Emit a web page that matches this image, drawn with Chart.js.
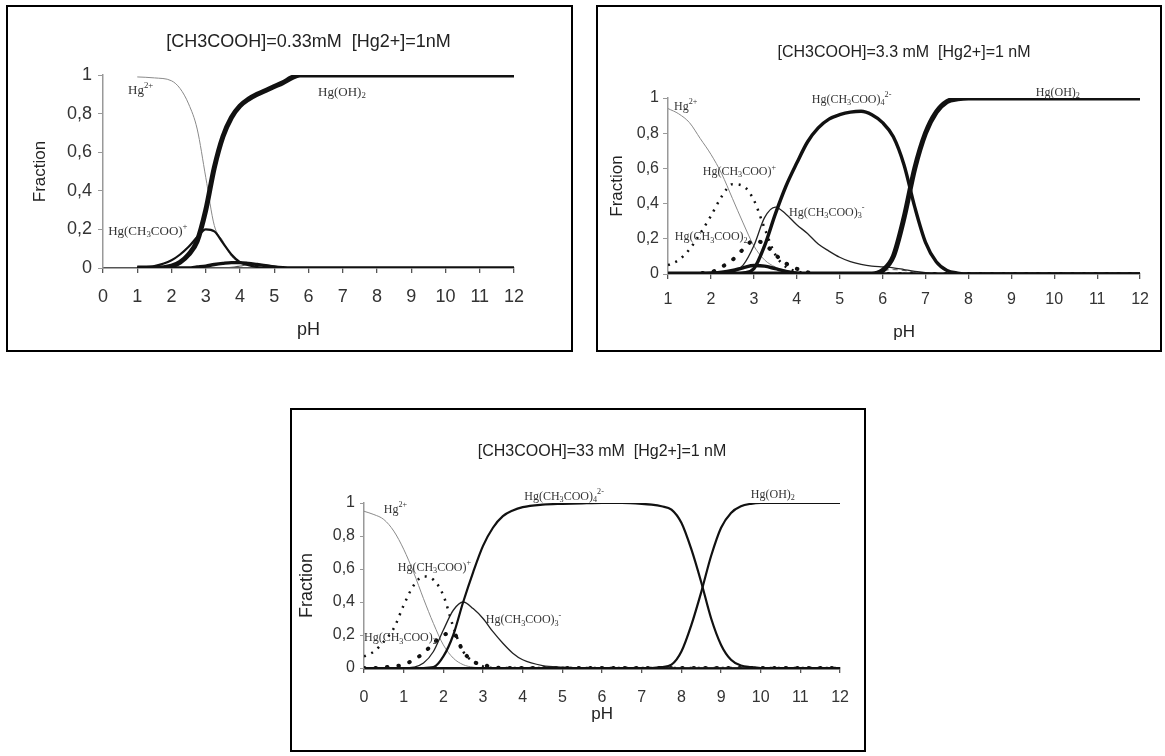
<!DOCTYPE html>
<html>
<head>
<meta charset="utf-8">
<script src="https://cdn.jsdelivr.net/npm/chart.js@4.4.1/dist/chart.umd.min.js"></script>
<style>
  body { margin: 0; background: #fff; }
  .panel { position: absolute; box-sizing: border-box; border: 2px solid #000; background: #fff; }
  .panel canvas { position: absolute; left: 0; top: 0; }
</style>
</head>
<body>
<div class="panel" style="left:6px;top:5px;width:567px;height:347px"><canvas id="c1" width="563" height="343"></canvas></div>
<div class="panel" style="left:596px;top:5px;width:566px;height:347px"><canvas id="c2" width="562" height="343"></canvas></div>
<div class="panel" style="left:290px;top:408px;width:576px;height:344px"><canvas id="c3" width="572" height="340"></canvas></div>
<script>
const fractionTicks = ['0', '0,2', '0,4', '0,6', '0,8', '1']
const titles = [
  '[CH3COOH]=0.33mM  [Hg2+]=1nM',
  '[CH3COOH]=3.3 mM  [Hg2+]=1 nM',
  '[CH3COOH]=33 mM  [Hg2+]=1 nM',
]
// species names, _{} subscript, ^{} superscript
const names = {
  hg: 'Hg^{2+}',
  oh2: 'Hg(OH)_{2}',
  ac1: 'Hg(CH_{3}COO)^{+}',
  ac2: 'Hg(CH_{3}COO)_{2}',
  ac3: 'Hg(CH_{3}COO)_{3}^{-}',
  ac4: 'Hg(CH_{3}COO)_{4}^{2-}',
}

// [CH3COOH] = 0.33 mM
const pH1 = [1, 1.5, 2, 2.25, 2.5, 2.75, 3, 3.25, 3.5, 3.75, 4, 4.25, 4.5, 4.75, 5, 5.25, 5.5, 5.75, 6, 7, 8, 9, 10, 11, 12]
const hg1 = [0.99, 0.985, 0.97, 0.93, 0.85, 0.72, 0.47, 0.22, 0.14, 0.06, 0.03, 0.015, 0.005, 0, 0, 0, 0, 0, 0, 0, 0, 0, 0, 0, 0]
const oh2_1 = [0, 0, 0.01, 0.03, 0.07, 0.14, 0.3, 0.52, 0.68, 0.78, 0.84, 0.875, 0.9, 0.92, 0.94, 0.96, 0.985, 1, 1, 1, 1, 1, 1, 1, 1]
const ac1_1 = [0, 0.01, 0.04, 0.07, 0.11, 0.16, 0.2, 0.19, 0.13, 0.07, 0.03, 0.015, 0.005, 0, 0, 0, 0, 0, 0, 0, 0, 0, 0, 0, 0]
const minorA1 = [0, 0, 0, 0, 0, 0.005, 0.01, 0.018, 0.024, 0.028, 0.028, 0.024, 0.018, 0.012, 0.006, 0.002, 0, 0, 0, 0, 0, 0, 0, 0, 0]
const minorB1 = [0, 0, 0, 0, 0, 0, 0, 0, 0, 0.003, 0.01, 0.018, 0.02, 0.017, 0.01, 0.004, 0, 0, 0, 0, 0, 0, 0, 0, 0]

// [CH3COOH] = 3.3 mM
const pH2 = [1, 1.25, 1.5, 1.75, 2, 2.25, 2.5, 2.75, 3, 3.25, 3.5, 3.75, 4, 4.25, 4.5, 4.75, 5, 5.25, 5.5, 5.75, 6, 6.25, 6.5, 6.75, 7, 7.25, 7.5, 7.75, 8, 9, 10, 11, 12]
const hg2 = [0.94, 0.91, 0.86, 0.77, 0.68, 0.57, 0.43, 0.29, 0.16, 0.08, 0.04, 0.02, 0.01, 0.005, 0, 0, 0, 0, 0, 0, 0, 0, 0, 0, 0, 0, 0, 0, 0, 0, 0, 0, 0]
const ac1_2 = [0.05, 0.08, 0.14, 0.23, 0.33, 0.44, 0.51, 0.5, 0.42, 0.26, 0.11, 0.04, 0.015, 0.005, 0, 0, 0, 0, 0, 0, 0, 0, 0, 0, 0, 0, 0, 0, 0, 0, 0, 0, 0]
const ac2_2 = [0, 0, 0, 0.005, 0.01, 0.04, 0.08, 0.14, 0.19, 0.17, 0.11, 0.06, 0.03, 0.01, 0, 0, 0, 0, 0, 0, 0, 0, 0, 0, 0, 0, 0, 0, 0, 0, 0, 0, 0]
const ac3_2 = [0, 0, 0, 0, 0, 0, 0.01, 0.05, 0.16, 0.32, 0.38, 0.34, 0.28, 0.23, 0.17, 0.13, 0.095, 0.07, 0.055, 0.045, 0.04, 0.035, 0.025, 0.015, 0.008, 0.003, 0, 0, 0, 0, 0, 0, 0]
const ac4_2 = [0, 0, 0, 0, 0, 0, 0, 0.005, 0.03, 0.16, 0.34, 0.5, 0.63, 0.75, 0.83, 0.88, 0.905, 0.92, 0.925, 0.905, 0.86, 0.78, 0.62, 0.38, 0.18, 0.07, 0.02, 0.005, 0, 0, 0, 0, 0]
const oh2_2 = [0, 0, 0, 0, 0, 0, 0, 0, 0, 0, 0, 0, 0, 0, 0, 0, 0, 0, 0, 0, 0.02, 0.1, 0.32, 0.6, 0.8, 0.92, 0.98, 0.995, 1, 1, 1, 1, 1]
const minorA2 = [0, 0, 0, 0.002, 0.005, 0.01, 0.02, 0.035, 0.048, 0.045, 0.03, 0.015, 0.005, 0, 0, 0, 0, 0, 0, 0, 0, 0, 0, 0, 0, 0, 0, 0, 0, 0, 0, 0, 0]
const minorB2 = [0, 0, 0, 0, 0, 0, 0, 0, 0, 0, 0, 0, 0, 0, 0, 0, 0, 0, 0, 0.01, 0.02, 0.025, 0.02, 0.01, 0.003, 0, 0, 0, 0, 0, 0, 0, 0]

// [CH3COOH] = 33 mM
const pH3 = [0, 0.25, 0.5, 0.75, 1, 1.25, 1.5, 1.75, 2, 2.25, 2.5, 2.75, 3, 3.25, 3.5, 3.75, 4, 4.5, 5, 5.5, 6, 6.5, 7, 7.25, 7.5, 7.75, 8, 8.25, 8.5, 8.75, 9, 9.25, 9.5, 9.75, 10, 11, 12]
const hg3 = [0.95, 0.93, 0.9, 0.83, 0.72, 0.58, 0.42, 0.27, 0.14, 0.06, 0.02, 0.005, 0, 0, 0, 0, 0, 0, 0, 0, 0, 0, 0, 0, 0, 0, 0, 0, 0, 0, 0, 0, 0, 0, 0, 0, 0]
const ac1_3 = [0.07, 0.1, 0.16, 0.24, 0.38, 0.5, 0.555, 0.535, 0.44, 0.25, 0.1, 0.04, 0.01, 0, 0, 0, 0, 0, 0, 0, 0, 0, 0, 0, 0, 0, 0, 0, 0, 0, 0, 0, 0, 0, 0, 0, 0]
const ac2_3 = [0, 0, 0.005, 0.01, 0.02, 0.05, 0.09, 0.15, 0.2, 0.21, 0.1, 0.04, 0.02, 0.005, 0, 0, 0, 0, 0, 0, 0, 0, 0, 0, 0, 0, 0, 0, 0, 0, 0, 0, 0, 0, 0, 0, 0]
const ac3_3 = [0, 0, 0, 0, 0, 0.005, 0.03, 0.1, 0.23, 0.35, 0.4, 0.36, 0.3, 0.22, 0.15, 0.09, 0.05, 0.015, 0.005, 0, 0, 0, 0, 0, 0, 0, 0, 0, 0, 0, 0, 0, 0, 0, 0, 0, 0]
const ac4_3 = [0, 0, 0, 0, 0, 0, 0, 0.005, 0.07, 0.2, 0.4, 0.58, 0.74, 0.85, 0.92, 0.955, 0.975, 0.99, 0.995, 0.998, 1, 1, 0.995, 0.99, 0.98, 0.96, 0.88, 0.72, 0.52, 0.3, 0.14, 0.05, 0.015, 0.005, 0, 0, 0]
const oh2_3 = [0, 0, 0, 0, 0, 0, 0, 0, 0, 0, 0, 0, 0, 0, 0, 0, 0, 0, 0, 0, 0, 0, 0, 0, 0.005, 0.02, 0.1, 0.26, 0.46, 0.68, 0.85, 0.94, 0.98, 0.995, 1, 1, 1]

const SANS = "'Liberation Sans', Arial, sans-serif"
const SERIF = "'Liberation Serif', 'Times New Roman', serif"

// draws a name like Hg(CH_{3}COO)^{+} with real sub/superscripts
function drawRich(ctx, text, x, y, size) {
  const parts = text.match(/[_^]\{[^}]*\}|[^_^]+/g)
  let cx = x
  parts.forEach((p) => {
    let dy = 0
    let s = size
    let t = p
    if (p[0] === '_' || p[0] === '^') {
      t = p.slice(2, -1)
      s = size * 0.68
      dy = p[0] === '_' ? size * 0.28 : -size * 0.38
    }
    ctx.font = `${s}px ${SERIF}`
    ctx.fillText(t, cx, y + dy)
    cx += ctx.measureText(t).width
  })
}

const speciesLabels = {
  id: 'speciesLabels',
  afterDatasetsDraw(chart, args, opts) {
    const { ctx } = chart
    const x = chart.scales.x
    const y = chart.scales.y
    ctx.save()
    ctx.fillStyle = '#333'
    ctx.textBaseline = 'middle'
    opts.items.forEach((item) => {
      drawRich(ctx, names[item.key], x.getPixelForValue(item.pH), y.getPixelForValue(item.f), opts.size)
    })
    ctx.restore()
  },
}

const styles = {
  hg: { borderColor: '#8a8a8a', borderWidth: 1 },
  dotted: { borderColor: '#111', borderWidth: 2.5, borderDash: [2, 6] },
  bigdots: { borderColor: '#111', borderWidth: 4, borderDash: [0.5, 11], borderCapStyle: 'round' },
  thin: { borderColor: '#222', borderWidth: 1.3 },
  medium: { borderColor: '#111', borderWidth: 2.2 },
  thick: { borderColor: '#111', borderWidth: 3.4 },
  heavy: { borderColor: '#111', borderWidth: 5 },
  faint: { borderColor: '#555', borderWidth: 1.1 },
  dashed: { borderColor: '#555', borderWidth: 1, borderDash: [5, 4] },
}

function series(pH, values, style) {
  return {
    data: pH.map((x, i) => ({ x: x, y: values[i] })),
    pointRadius: 0,
    fill: false,
    cubicInterpolationMode: 'monotone',
    ...styles[style],
  }
}

function panelChart(id, cfg) {
  return new Chart(document.getElementById(id), {
    type: 'line',
    data: { datasets: cfg.datasets },
    options: {
      responsive: false,
      animation: false,
      events: [],
      layout: { padding: cfg.padding },
      plugins: {
        legend: { display: false },
        tooltip: { enabled: false },
        title: {
          display: true,
          text: cfg.title,
          fullSize: false,
          color: '#222',
          font: { family: SANS, size: cfg.titleSize, weight: 'normal' },
          padding: cfg.titlePadding,
        },
        speciesLabels: { items: cfg.labels, size: cfg.labelSize },
      },
      scales: {
        x: {
          type: 'linear',
          min: cfg.xMin,
          max: 12,
          afterFit: (scale) => {
            scale.height = cfg.xHeight
          },
          ticks: {
            stepSize: 1,
            autoSkip: false,
            maxRotation: 0,
            color: '#333',
            padding: cfg.xTickPad,
            font: { family: SANS, size: cfg.tickSize },
          },
          grid: { drawOnChartArea: false, tickLength: 5, color: '#555', lineWidth: 1.3 },
          border: { color: cfg.xAxisColor, width: cfg.xAxisWidth },
          title: {
            display: true,
            text: 'pH',
            color: '#222',
            padding: 0,
            font: { family: SANS, size: cfg.phSize },
          },
        },
        y: {
          min: 0,
          max: 1,
          afterFit: (scale) => {
            scale.width = cfg.yWidth
          },
          ticks: {
            stepSize: 0.2,
            color: '#333',
            padding: cfg.yTickPad,
            font: { family: SANS, size: cfg.tickSize },
            callback: (value, index) => fractionTicks[index],
          },
          grid: { drawOnChartArea: false, tickLength: cfg.yTickLen, color: '#999' },
          border: { color: '#999', width: 1.5 },
          title: {
            display: true,
            text: 'Fraction',
            color: '#222',
            padding: { top: cfg.yTitlePad, bottom: 0 },
            font: { family: SANS, size: cfg.fractionSize },
          },
        },
      },
    },
    plugins: [speciesLabels],
  })
}

panelChart('c1', {
  title: titles[0],
  titleSize: 18,
  titlePadding: { top: 24.4, bottom: 22 },
  padding: { left: 0, right: 57, top: 0, bottom: 9 },
  xMin: 0,
  xHeight: 73,
  yWidth: 95,
  tickSize: 18,
  xTickPad: 13,
  yTickPad: 6,
  yTickLen: 5,
  phSize: 18,
  fractionSize: 17,
  yTitlePad: 22,
  xAxisColor: '#555',
  xAxisWidth: 1.5,
  labelSize: 13,
  labels: [
    { key: 'hg', pH: 0.73, f: 0.92 },
    { key: 'oh2', pH: 6.28, f: 0.91 },
    { key: 'ac1', pH: 0.15, f: 0.19 },
  ],
  datasets: [
    series(pH1, oh2_1, 'heavy'),
    series(pH1, ac1_1, 'medium'),
    series(pH1, minorA1, 'thick'),
    series(pH1, minorB1, 'faint'),
    series(pH1, hg1, 'hg'),
  ],
})

panelChart('c2', {
  title: titles[1],
  titleSize: 16,
  titlePadding: { top: 36.4, bottom: 35.4 },
  padding: { left: 0, right: 17, top: 0, bottom: 7 },
  xMin: 1,
  xHeight: 69,
  yWidth: 70,
  tickSize: 16,
  xTickPad: 11,
  yTickPad: 4,
  yTickLen: 5,
  phSize: 17,
  fractionSize: 17,
  yTitlePad: 8.8,
  xAxisColor: '#555',
  xAxisWidth: 1.5,
  labelSize: 12,
  labels: [
    { key: 'hg', pH: 1.14, f: 0.95 },
    { key: 'ac4', pH: 4.35, f: 0.99 },
    { key: 'oh2', pH: 9.57, f: 1.03 },
    { key: 'ac1', pH: 1.81, f: 0.58 },
    { key: 'ac3', pH: 3.82, f: 0.35 },
    { key: 'ac2', pH: 1.16, f: 0.21 },
  ],
  datasets: [
    series(pH2, oh2_2, 'heavy'),
    series(pH2, ac4_2, 'thick'),
    series(pH2, minorA2, 'thick'),
    series(pH2, ac3_2, 'thin'),
    series(pH2, ac1_2, 'dotted'),
    series(pH2, ac2_2, 'bigdots'),
    series(pH2, minorB2, 'dashed'),
    series(pH2, hg2, 'hg'),
  ],
})

panelChart('c3', {
  title: titles[2],
  titleSize: 16,
  titlePadding: { top: 32.4, bottom: 41.4 },
  padding: { left: 0, right: 18, top: 0, bottom: 25 },
  xMin: 0,
  xHeight: 57,
  yWidth: 72,
  tickSize: 16,
  xTickPad: 15,
  yTickPad: 5,
  yTickLen: 4,
  phSize: 17,
  fractionSize: 18,
  yTitlePad: 4.2,
  xAxisColor: '#111',
  xAxisWidth: 2.5,
  labelSize: 12,
  labels: [
    { key: 'hg', pH: 0.5, f: 0.96 },
    { key: 'ac4', pH: 4.04, f: 1.04 },
    { key: 'oh2', pH: 9.75, f: 1.05 },
    { key: 'ac1', pH: 0.85, f: 0.61 },
    { key: 'ac3', pH: 3.07, f: 0.29 },
    { key: 'ac2', pH: 0, f: 0.18 },
  ],
  datasets: [
    series(pH3, oh2_3, 'medium'),
    series(pH3, ac4_3, 'medium'),
    series(pH3, ac3_3, 'thin'),
    series(pH3, ac1_3, 'dotted'),
    series(pH3, ac2_3, 'bigdots'),
    series(pH3, hg3, 'hg'),
  ],
})
</script>
</body>
</html>
